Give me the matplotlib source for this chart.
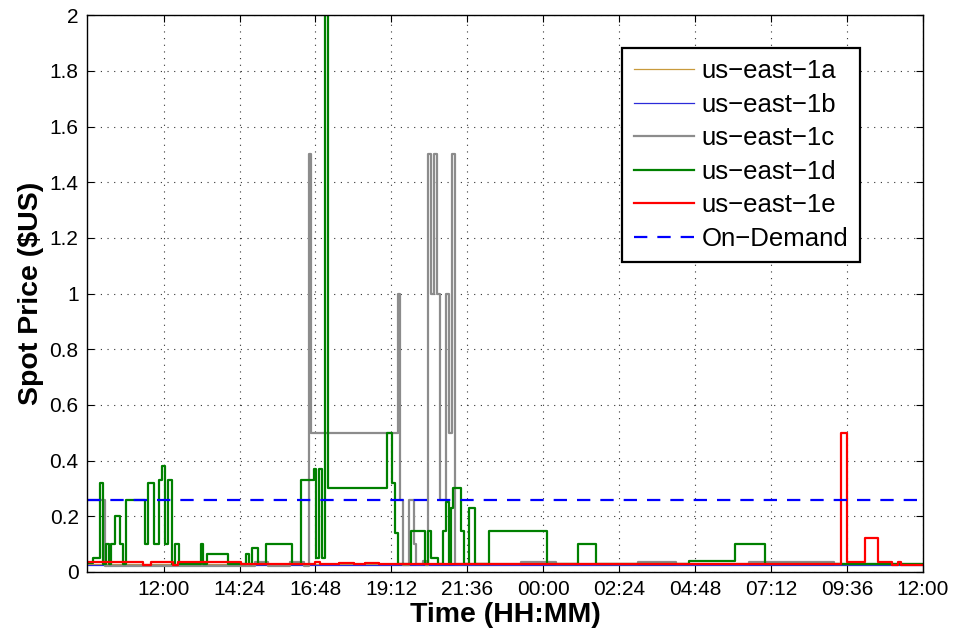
import matplotlib
matplotlib.use("Agg")
import matplotlib.pyplot as plt

# ================= DATOS =================
# hours since 00:00 of day one (step changes, drawn with where='post')
t_ini = 9.58
t_fin = 36.0

tiempo_a = [t_ini, 12.5, 16.2, 21.3, 26.0, 31.5, t_fin]
precio_a = [0.030, 0.028, 0.030, 0.027, 0.029, 0.027, 0.027]

tiempo_b = [t_ini, 13.0, 14.6, 16.4, 22.3, 24.8, 29.5, t_fin]
precio_b = [0.025, 0.024, 0.025, 0.024, 0.025, 0.024, 0.025, 0.025]

tiempo_c = [t_ini, 10.16, 14.9, 15.3, 16.0, 16.45, 16.58, 16.67, 19.40, 19.48,
            19.58, 19.77, 19.90, 19.99, 20.20, 20.29, 20.37, 20.45, 20.55,
            20.64, 20.74, 20.93, 21.01, 21.12, 21.20, 23.3, 24.4, 27.0, 28.2,
            30.5, 33.2, t_fin]
precio_c = [0.26, 0.022, 0.035, 0.022, 0.035, 0.022, 1.5, 0.5, 1.0, 0.26,
            0.025, 0.26, 0.10, 0.03, 0.04, 0.025, 1.5, 1.0, 1.5,
            1.0, 0.26, 1.0, 0.5, 1.5, 0.03, 0.035, 0.028, 0.035, 0.028,
            0.035, 0.028, 0.028]

tiempo_d = [t_ini, 9.77, 9.98, 10.08, 10.19, 10.26, 10.35, 10.45, 10.61, 10.71,
            10.82, 11.40, 11.50, 11.69, 11.84, 11.96, 12.06, 12.14, 12.26,
            12.35, 12.48, 13.17, 13.26, 13.37, 14.05, 14.61, 14.69, 14.79,
            14.98, 15.24, 16.05, 16.33, 16.74, 16.82, 16.92, 17.01, 17.10,
            17.20, 19.06, 19.21, 19.30, 19.40, 19.82, 20.26, 20.37, 20.45,
            20.66, 20.82, 20.93, 21.01, 21.09, 21.16, 21.40, 21.50, 21.66,
            21.85, 22.27, 24.11, 25.10, 25.66, 28.59, 30.05, 31.00, t_fin]
precio_d = [0.033, 0.05, 0.32, 0.03, 0.10, 0.03, 0.10, 0.20, 0.10, 0.03,
            0.26, 0.10, 0.32, 0.10, 0.33, 0.38, 0.10, 0.33, 0.03,
            0.10, 0.03, 0.10, 0.03, 0.065, 0.03, 0.065, 0.03, 0.087,
            0.03, 0.10, 0.03, 0.33, 0.37, 0.05, 0.37, 0.05, 2.5,
            0.30, 0.50, 0.32, 0.14, 0.03, 0.146, 0.03, 0.146, 0.05,
            0.03, 0.146, 0.25, 0.03, 0.23, 0.30, 0.146, 0.03, 0.23,
            0.03, 0.146, 0.03, 0.10, 0.03, 0.04, 0.10, 0.03, 0.03]

tiempo_e = [t_ini, 11.35, 11.61, 12.29, 12.45, 14.45, 16.77, 16.93, 17.55,
            18.03, 18.35, 18.82, 24.0, 26.5, 33.42, 33.61, 34.17, 34.59,
            35.03, 35.2, 35.3, t_fin]
precio_e = [0.035, 0.025, 0.035, 0.025, 0.035, 0.028, 0.035, 0.028, 0.033,
            0.027, 0.033, 0.027, 0.030, 0.027, 0.50, 0.034, 0.122, 0.034,
            0.026, 0.034, 0.026, 0.026]

precio_demanda = 0.26

etiquetas = ["us\u2212east\u22121a", "us\u2212east\u22121b", "us\u2212east\u22121c",
             "us\u2212east\u22121d", "us\u2212east\u22121e", "On\u2212Demand"]

ticks_x = [12, 14.4, 16.8, 19.2, 21.6, 24, 26.4, 28.8, 31.2, 33.6, 36]
etiquetas_x = ["12:00", "14:24", "16:48", "19:12", "21:36", "00:00",
               "02:24", "04:48", "07:12", "09:36", "12:00"]
ticks_y = [0, 0.2, 0.4, 0.6, 0.8, 1.0, 1.2, 1.4, 1.6, 1.8, 2.0]
etiquetas_y = ["0", "0.2", "0.4", "0.6", "0.8", "1", "1.2", "1.4", "1.6", "1.8", "2"]

# ================= GRAFICO =================
plt.rcParams['font.family'] = ['Liberation Sans', 'DejaVu Sans']

fig = plt.figure(figsize=(9.56, 6.34), dpi=100)
ax = fig.add_axes([0.091, 0.098, 0.8745, 0.878])

ax.step(tiempo_a, precio_a, where='post', color='#c89a3c', lw=0.9, label=etiquetas[0])
ax.step(tiempo_b, precio_b, where='post', color='#2b2bd9', lw=0.9, label=etiquetas[1])
ax.step(tiempo_c, precio_c, where='post', color='#8c8c8c', lw=1.6, label=etiquetas[2])
ax.step(tiempo_d, precio_d, where='post', color='#008000', lw=1.6, label=etiquetas[3])
ax.step(tiempo_e, precio_e, where='post', color='#ff0000', lw=1.6, label=etiquetas[4])
ax.plot([t_ini, t_fin], [precio_demanda, precio_demanda], color='#0000ff',
        lw=1.6, dashes=(6, 4.5), label=etiquetas[5])

ax.set_xlim(t_ini, t_fin)
ax.set_ylim(0, 2)
ax.set_xticks(ticks_x)
ax.set_xticklabels(etiquetas_x)
ax.set_yticks(ticks_y)
ax.set_yticklabels(etiquetas_y)
ax.tick_params(direction='in', length=5, width=0.8, labelsize=15,
               top=True, right=True, pad=6)
ax.grid(True, axis='y', color='#333333', linestyle=(0, (1, 5)), lw=0.8)
ax.grid(True, axis='x', color='#333333', linestyle=(0, (1, 5)), lw=0.8)
for s in ax.spines.values():
    s.set_linewidth(1.0)

ax.set_xlabel("Time (HH:MM)", fontsize=20.5, fontweight='bold', labelpad=2)
ax.set_ylabel("Spot Price ($US)", fontsize=20.5, fontweight='bold', labelpad=4)

leg = ax.legend(loc='upper right', bbox_to_anchor=(0.94, 0.965), fontsize=18.5,
                frameon=True, fancybox=False, edgecolor='black', framealpha=1,
                handlelength=2.35, borderpad=0.45, labelspacing=0.37, handletextpad=0.3)
leg.get_frame().set_linewidth(1.6)

fig.savefig("out.png", dpi=100)
